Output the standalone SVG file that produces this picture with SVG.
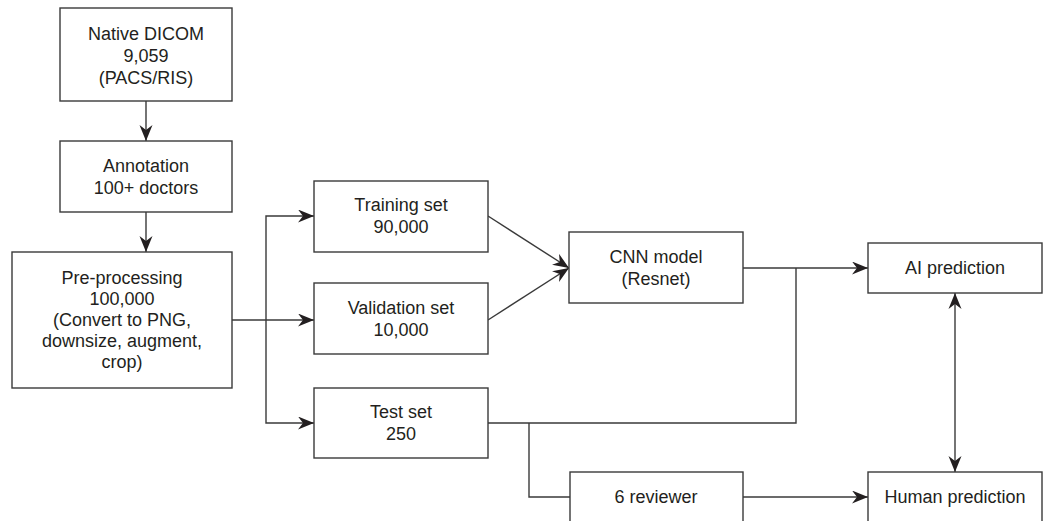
<svg xmlns="http://www.w3.org/2000/svg" width="1059" height="521" viewBox="0 0 1059 521">
<style>
.box{fill:#fff;stroke:#3a3a3a;stroke-width:1.4}
.t{font-family:"Liberation Sans",Arial,sans-serif;font-size:18px;fill:#231f20;text-anchor:middle}
.c{fill:none;stroke:#3a3a3a;stroke-width:1.4}
</style>
<defs>
<marker id="ah" markerWidth="18" markerHeight="14" refX="16" refY="6.5" orient="auto" markerUnits="userSpaceOnUse">
<path d="M0,0 L16,6.5 L0,13 L5,6.5 z" fill="#231f20"/>
</marker>
<marker id="as" markerWidth="18" markerHeight="14" refX="1" refY="6.5" orient="auto" markerUnits="userSpaceOnUse">
<path d="M17,0 L1,6.5 L17,13 L12,6.5 z" fill="#231f20"/>
</marker>
</defs>
<rect width="1059" height="521" fill="#fff"/>
<g id="connectors">
<path class="c" d="M146,101 V141" marker-end="url(#ah)"/>
<path class="c" d="M146,212 V252" marker-end="url(#ah)"/>
<path class="c" d="M232,320 H314" marker-end="url(#ah)"/>
<path class="c" d="M266,320 V216 H314" marker-end="url(#ah)"/>
<path class="c" d="M266,320 V423 H314" marker-end="url(#ah)"/>
<path class="c" d="M488,216 L569,268" marker-end="url(#ah)"/>
<path class="c" d="M488,320 L569,268" marker-end="url(#ah)"/>
<path class="c" d="M743,268 H868" marker-end="url(#ah)"/>
<path class="c" d="M488,423 H796 V268"/>
<path class="c" d="M529,423 V497 H570"/>
<path class="c" d="M743,497 H868" marker-end="url(#ah)"/>
<path class="c" d="M955,293 V472" marker-start="url(#as)" marker-end="url(#ah)"/>
</g>
<g id="native-dicom">
<rect class="box" x="60" y="8" width="172" height="93"/>
<text class="t" x="146" y="40">Native DICOM</text>
<text class="t" x="146" y="62">9,059</text>
<text class="t" x="146" y="84">(PACS/RIS)</text>
</g>
<g id="annotation">
<rect class="box" x="60" y="141" width="172" height="71"/>
<text class="t" x="146" y="172">Annotation</text>
<text class="t" x="146" y="194">100+ doctors</text>
</g>
<g id="pre-processing">
<rect class="box" x="12" y="252" width="220" height="136"/>
<text class="t" x="122" y="284">Pre-processing</text>
<text class="t" x="122" y="305">100,000</text>
<text class="t" x="122" y="326">(Convert to PNG,</text>
<text class="t" x="122" y="347">downsize, augment,</text>
<text class="t" x="122" y="368">crop)</text>
</g>
<g id="training-set">
<rect class="box" x="314" y="181" width="174" height="71"/>
<text class="t" x="401" y="211">Training set</text>
<text class="t" x="401" y="233">90,000</text>
</g>
<g id="validation-set">
<rect class="box" x="314" y="283" width="174" height="71"/>
<text class="t" x="401" y="314">Validation set</text>
<text class="t" x="401" y="336">10,000</text>
</g>
<g id="test-set">
<rect class="box" x="314" y="388" width="174" height="70"/>
<text class="t" x="401" y="418">Test set</text>
<text class="t" x="401" y="440">250</text>
</g>
<g id="cnn-model">
<rect class="box" x="569" y="232" width="174" height="71"/>
<text class="t" x="656" y="263">CNN model</text>
<text class="t" x="656" y="285">(Resnet)</text>
</g>
<g id="ai-prediction">
<rect class="box" x="868" y="243" width="174" height="50"/>
<text class="t" x="955" y="274">AI prediction</text>
</g>
<g id="reviewer">
<rect class="box" x="570" y="472" width="173" height="60"/>
<text class="t" x="656" y="503">6 reviewer</text>
</g>
<g id="human-prediction">
<rect class="box" x="868" y="472" width="174" height="60"/>
<text class="t" x="955" y="503">Human prediction</text>
</g>
</svg>
